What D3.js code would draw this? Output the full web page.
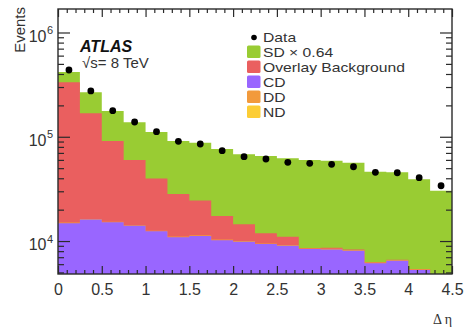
<!DOCTYPE html>
<html>
<head>
<meta charset="utf-8">
<script src="https://cdn.jsdelivr.net/npm/d3@7"></script>
<style>
  body { margin: 0; background: #fff; }
  svg { display: block; font-family: "Liberation Sans", Arial, sans-serif; }
</style>
</head>
<body>
<svg id="chart" width="466" height="329"></svg>
<script>
// Lower edges of the Δη bins (width 0.25)
const binEdges = [0, 0.25, 0.5, 0.75, 1, 1.25, 1.5, 1.75, 2, 2.25, 2.5, 2.75, 3, 3.25, 3.5, 3.75, 4, 4.25];
const binWidth = 0.25;

// Measured events per bin
const dataEvents = [437000, 275000, 178000, 138500, 111800, 90400, 85200, 73500, 64400, 61200, 56900, 55600, 54400, 51600, 45600, 45200, 40500, 33900];

// Stacked contributions per bin
const sdScale = 0.64;
const sdScaledEvents = [85000, 99000, 86000, 77900, 71100, 62800, 63300, 58900, 53400, 53400, 51100, 51200, 50300, 48100, 40000, 39000, 33700, 25900];
const overlayEvents = [318000, 151700, 75700, 45600, 27300, 17200, 13100, 7060, 4510, 2410, 1850, 70, 190, 90, 40, 30, 30, 30];
const cdEvents = [14700, 16000, 15000, 13900, 12300, 10800, 11100, 10100, 9760, 9280, 8940, 8290, 8240, 8000, 6040, 6400, 5200, 4240];
const ddEvents = [200, 190, 180, 170, 160, 150, 150, 140, 140, 130, 130, 130, 120, 120, 100, 100, 90, 90];
const ndEvents = [120, 115, 110, 105, 100, 95, 92, 90, 88, 85, 83, 80, 78, 75, 70, 68, 65, 60];

// Axis ticks
const xMajorTicks = [0, 0.5, 1, 1.5, 2, 2.5, 3, 3.5, 4, 4.5];
const xTickLabels = ["0", "0.5", "1", "1.5", "2", "2.5", "3", "3.5", "4", "4.5"];
const yDecadeExponents = [4, 5, 6];

const colors = {
  sd: "#99cc33",
  overlay: "#ea5f5f",
  cd: "#9966ff",
  dd: "#f29a3c",
  nd: "#fccd35"
};

const svg = d3.select("#chart");
const W = 466, H = 329;
const plot = { left: 58, right: 452, top: 9, bottom: 274 };

svg.append("rect").attr("width", W).attr("height", H).attr("fill", "#fff");

const x = d3.scaleLinear().domain([0, 4.5]).range([plot.left, plot.right]);
const yMin = 4830, yMax = 1.68e6;
const y = d3.scaleLog().domain([yMin, yMax]).range([plot.bottom, plot.top]);

svg.append("clipPath").attr("id", "plotclip")
  .append("rect")
  .attr("x", plot.left).attr("y", plot.top)
  .attr("width", plot.right - plot.left).attr("height", plot.bottom - plot.top);

// Stack: ND, CD, DD, Overlay, SD from the bottom up
const rows = binEdges.map((b, i) => ({
  nd: ndEvents[i], cd: cdEvents[i], dd: ddEvents[i],
  overlay: overlayEvents[i], sd: sdScaledEvents[i]
}));
const keys = ["nd", "cd", "dd", "overlay", "sd"];
const series = d3.stack().keys(keys)(rows);

const area = d3.area()
  .curve(d3.curveStepAfter)
  .x(p => x(p.e))
  .y0(plot.bottom)
  .y1(p => y(Math.max(p.hi, yMin * 0.5)));

const histG = svg.append("g").attr("clip-path", "url(#plotclip)");
// Paint from the top layer down so each band covers the one beneath it
series.slice().reverse().forEach(s => {
  const pts = s.map((d, i) => ({ e: binEdges[i], hi: d[1] }));
  pts.push({ e: binEdges[binEdges.length - 1] + binWidth, hi: s[s.length - 1][1] });
  histG.append("path")
    .datum(pts)
    .attr("d", area)
    .attr("fill", colors[s.key]);
});

// Data points
histG.selectAll("circle.data")
  .data(dataEvents)
  .join("circle")
  .attr("class", "data")
  .attr("cx", (d, i) => x(binEdges[i] + binWidth / 2))
  .attr("cy", d => y(d))
  .attr("r", 3.4)
  .attr("fill", "#000");

// Tick marks on all four sides, pointing inward
const tickColor = "#2a2a2a";
const xMinor = d3.range(0, 45.5, 1).map(v => v / 10).filter(v => Math.round(v * 10) % 5 !== 0);

function styleTicks(g) {
  g.select(".domain").remove();
  g.selectAll("line").attr("stroke", tickColor).attr("stroke-width", 1.2);
  g.selectAll("text").remove();
}

[[plot.bottom, d3.axisTop], [plot.top, d3.axisBottom]].forEach(([yy, ax]) => {
  svg.append("g").attr("transform", `translate(0,${yy})`)
    .call(ax(x).tickValues(xMajorTicks).tickSize(8).tickSizeOuter(0).tickFormat(""))
    .call(styleTicks);
  svg.append("g").attr("transform", `translate(0,${yy})`)
    .call(ax(x).tickValues(xMinor).tickSize(4).tickSizeOuter(0).tickFormat(""))
    .call(styleTicks);
});

const yMajor = yDecadeExponents.map(e => Math.pow(10, e));
const yMinor = [];
[3, 4, 5].forEach(e => {
  for (let m = 2; m <= 9; m++) {
    const v = m * Math.pow(10, e);
    if (v >= yMin && v <= yMax) yMinor.push(v);
  }
});

[[plot.left, d3.axisRight], [plot.right, d3.axisLeft]].forEach(([xx, ax]) => {
  svg.append("g").attr("transform", `translate(${xx},0)`)
    .call(ax(y).tickValues(yMajor).tickSize(12).tickSizeOuter(0).tickFormat(""))
    .call(styleTicks);
  svg.append("g").attr("transform", `translate(${xx},0)`)
    .call(ax(y).tickValues(yMinor).tickSize(6).tickSizeOuter(0).tickFormat(""))
    .call(styleTicks);
});

// Frame
svg.append("rect")
  .attr("x", plot.left).attr("y", plot.top)
  .attr("width", plot.right - plot.left).attr("height", plot.bottom - plot.top)
  .attr("fill", "none").attr("stroke", "#2a2a2a").attr("stroke-width", 1.4);

// X tick labels
const xLab = svg.append("g").attr("transform", `translate(0,${plot.bottom})`)
  .call(d3.axisBottom(x).tickValues(xMajorTicks).tickSize(0).tickPadding(9.5)
    .tickFormat((d, i) => xTickLabels[i]));
xLab.select(".domain").remove();
xLab.selectAll("text")
  .attr("font-family", "Liberation Sans, Arial, sans-serif")
  .attr("font-size", 16).attr("fill", "#333");

// Y tick labels as powers of ten
yDecadeExponents.forEach(e => {
  const yy = y(Math.pow(10, e));
  svg.append("text")
    .attr("x", 46.5).attr("y", yy + 9.2)
    .attr("text-anchor", "end")
    .attr("font-size", 16).attr("fill", "#333")
    .text("10");
  svg.append("text")
    .attr("x", 47).attr("y", yy + 1.5)
    .attr("font-size", 11).attr("fill", "#333")
    .text(e);
});

// Axis titles
svg.append("text")
  .attr("transform", "translate(25,7) rotate(-90)")
  .attr("text-anchor", "end")
  .attr("font-size", 15).attr("fill", "#333")
  .text("Events");

svg.append("text")
  .attr("x", plot.right).attr("y", 324)
  .attr("text-anchor", "end")
  .attr("font-family", "Liberation Serif, serif")
  .attr("font-size", 14).attr("fill", "#333")
  .text("Δ η");

// Experiment label
svg.append("text")
  .attr("x", 80).attr("y", 52)
  .attr("font-size", 16).attr("font-weight", "bold").attr("font-style", "italic")
  .attr("fill", "#111")
  .text("ATLAS");
svg.append("text")
  .attr("x", 82).attr("y", 68)
  .attr("font-size", 15).attr("fill", "#333")
  .text("√s= 8 TeV");

// Legend: tight rows, so the text uses a compact size widened horizontally
const legendItems = [
  { label: "Data", type: "dot" },
  { label: `SD × ${sdScale}`, color: colors.sd },
  { label: "Overlay Background", color: colors.overlay },
  { label: "CD", color: colors.cd },
  { label: "DD", color: colors.dd },
  { label: "ND", color: colors.nd }
];
const legendFont = 13.4, legendWiden = 1.17, legendRow = 15;
const legend = svg.append("g");
legendItems.forEach((it, i) => {
  const cy = 36.5 + i * legendRow;
  if (it.type === "dot") {
    legend.append("circle").attr("cx", 254).attr("cy", cy + 1).attr("r", 2.8).attr("fill", "#000");
  } else {
    legend.append("rect")
      .attr("x", 247).attr("y", cy - 6).attr("width", 13.5).attr("height", 12.5)
      .attr("rx", 1.5)
      .attr("fill", it.color);
  }
  const t = legend.append("text")
    .attr("x", 263).attr("y", cy + 5)
    .attr("font-size", legendFont).attr("fill", "#333")
    .text(it.label);
  const natural = t.node().getComputedTextLength();
  t.attr("textLength", natural * legendWiden).attr("lengthAdjust", "spacingAndGlyphs");
});
</script>
</body>
</html>
